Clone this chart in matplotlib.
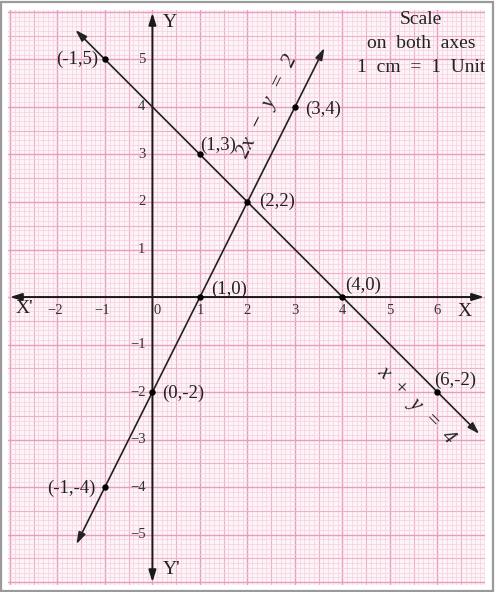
import numpy as np
import matplotlib
matplotlib.use("Agg")
import matplotlib.pyplot as plt
from matplotlib.patches import Rectangle

# ---- data ----
line1_label = "x  +  y  =  4"
line1_x = [-1.62, 6.88]          # arrow ends of x + y = 4
line1_y = [4 - v for v in line1_x]
line1_pts_x = [-1, 1, 2, 4, 6]
line1_pts_y = [5, 3, 2, 0, -2]

line2_label = "2x  −  y  =  2"
line2_x = [-1.6, 3.62]           # arrow ends of 2x - y = 2
line2_y = [2 * v - 2 for v in line2_x]
line2_pts_x = [3, 1, 0, -1]
line2_pts_y = [4, 0, -2, -4]

x_ticks = [-2, -1, 0, 1, 2, 3, 4, 5, 6]
x_tick_labels = ["−2", "−1", "0", "1", "2", "3", "4", "5", "6"]
y_ticks = [5, 4, 3, 2, 1, -1, -2, -3, -4, -5]
y_tick_labels = ["5", "4", "3", "2", "1", "−1", "−2", "−3", "−4", "−5"]

point_labels = ["(-1,5)", "(1,3)", "(2,2)", "(4,0)", "(6,-2)",
                "(3,4)", "(1,0)", "(0,-2)", "(-1,-4)"]
point_x = [-1, 1, 2, 4, 6, 3, 1, 0, -1]
point_y = [5, 3, 2, 0, -2, 4, 0, -2, -4]

scale_text = ["Scale", "on  both  axes", "1  cm  =  1  Unit"]

# ---- styling ----
W, H, DPI = 501, 592, 100
PX = 72.0 / DPI  # points per pixel
SERIF = ["Liberation Serif", "DejaVu Serif"]
plt.rcParams["font.family"] = SERIF

fig = plt.figure(figsize=(W / DPI, H / DPI), dpi=DPI)
fig.patch.set_facecolor("white")
fig.patches.append(Rectangle((1 / W, 1 - 591 / H), 492 / W, 589 / H,
                             transform=fig.transFigure, fill=False,
                             edgecolor="#9a9a9a", linewidth=1.6))

left, right, top, bottom = 8, 485, 10, 585
ax = fig.add_axes([left / W, 1 - bottom / H, (right - left) / W, (bottom - top) / H])
xmin, xmax, ymin, ymax = -3.04, 7.0, -6.06, 6.04
ax.set_xlim(xmin, xmax)
ax.set_ylim(ymin, ymax)
ax.set_facecolor("#fdf4f8")
for s in ax.spines.values():
    s.set_visible(False)
ax.set_xticks([])
ax.set_yticks([])


def grid_style(v):
    r = round(v * 10) % 10
    if r == 0:
        return "#e89cbf", 1.0
    if r == 5:
        return "#efb0ca", 0.8
    return "#f6cfdf", 0.5


# graph paper grid
for v in np.round(np.arange(-4, 8.01, 0.1), 2):
    c, lw = grid_style(v)
    ax.axvline(v, color=c, lw=lw, zorder=0)
for v in np.round(np.arange(-7, 7.01, 0.1), 2):
    c, lw = grid_style(v)
    ax.axhline(v, color=c, lw=lw, zorder=0)

# axes with arrows
arrow_kw = dict(arrowstyle="<|-|>,head_length=0.7,head_width=0.22", color="#1a1a1a", lw=1.4,
                shrinkA=0, shrinkB=0)
ax.annotate("", xy=(6.98, 0), xytext=(-3.0, 0), arrowprops=arrow_kw, zorder=3)
ax.annotate("", xy=(0, 5.98), xytext=(0, -6.0), arrowprops=arrow_kw, zorder=3)

# lines
line_kw = dict(arrowstyle="<|-|>,head_length=0.7,head_width=0.22", color="#222222", lw=1.2,
               shrinkA=0, shrinkB=0)
ax.annotate("", xy=(line1_x[1], line1_y[1]), xytext=(line1_x[0], line1_y[0]),
            arrowprops=line_kw, zorder=4)
ax.annotate("", xy=(line2_x[1], line2_y[1]), xytext=(line2_x[0], line2_y[0]),
            arrowprops=line_kw, zorder=4)

ax.plot(line1_pts_x, line1_pts_y, "o", color="black", ms=3.6, zorder=5)
ax.plot(line2_pts_x, line2_pts_y, "o", color="black", ms=3.6, zorder=5)

# tick labels
tick_fs = 10.5
for v, t in zip(x_ticks, x_tick_labels):
    if v < 0:
        ax.annotate(t, (v, 0), xytext=(5 * PX, -13 * PX), textcoords="offset points",
                    ha="right", va="center", fontsize=tick_fs, color="#333333")
    elif v == 0:
        ax.annotate(t, (v, 0), xytext=(5 * PX, -13 * PX), textcoords="offset points",
                    ha="center", va="center", fontsize=tick_fs, color="#333333")
    else:
        ax.annotate(t, (v, 0), xytext=(0, -13 * PX), textcoords="offset points",
                    ha="center", va="center", fontsize=tick_fs, color="#333333")
for v, t in zip(y_ticks, y_tick_labels):
    ax.annotate(t, (0, v), xytext=(-7 * PX, 0), textcoords="offset points",
                ha="right", va="center", fontsize=tick_fs, color="#333333")

# axis names
ax_fs = 14
ax.annotate("X'", (xmin, 0), xytext=((24 - left) * PX, -11 * PX), textcoords="offset points",
            ha="center", va="center", fontsize=ax_fs, color="#222222")
ax.annotate("X", (0, 0), xytext=((465 - 152.5) * PX, -14 * PX), textcoords="offset points",
            ha="center", va="center", fontsize=ax_fs, color="#222222")
ax.annotate("Y", (0, 0), xytext=(17 * PX, (297 - 22) * PX), textcoords="offset points",
            ha="center", va="center", fontsize=ax_fs, color="#222222")
ax.annotate("Y'", (0, 0), xytext=(19 * PX, (297 - 569) * PX), textcoords="offset points",
            ha="center", va="center", fontsize=ax_fs, color="#222222")

# point labels (offsets in pixels)
offsets = [(-7, 0, "right"), (0, 9, "left"), (12, 1, "left"), (3, 12, "left"),
           (-3, 12, "left"), (10, -2, "left"), (11, 8, "left"), (10, -1, "left"),
           (-9, -1, "right")]
for t, px_, py_, (dx, dy, ha) in zip(point_labels, point_x, point_y, offsets):
    ax.annotate(t, (px_, py_), xytext=(dx * PX, dy * PX), textcoords="offset points",
                ha=ha, va="center", fontsize=13.5, color="#222222", zorder=6)

# line equation labels
ax.text(2.43, 4.02, line2_label, rotation=63.4, rotation_mode="anchor",
        ha="center", va="center", fontsize=15.5, style="italic", color="#222222")
ax.text(5.55, -2.27, line1_label, rotation=-45, rotation_mode="anchor",
        ha="center", va="center", fontsize=15.5, style="italic", color="#222222")

# scale note
for i, t in enumerate(scale_text):
    fig.text(421 / W, 1 - (19 + 24 * i) / H, t, ha="center", va="center",
             fontsize=14, color="#222222")

fig.savefig("out.png", dpi=DPI)
